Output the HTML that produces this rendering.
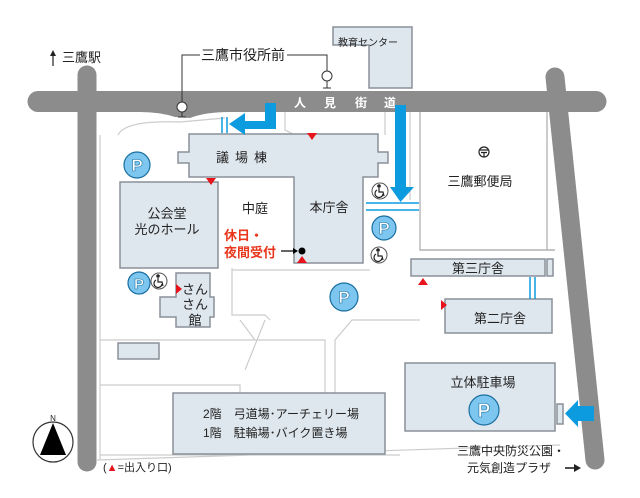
<!DOCTYPE html>
<html><head><meta charset="utf-8"><style>
html,body{margin:0;padding:0;background:#fff;width:640px;height:498px;overflow:hidden}
svg{display:block}
text{font-family:"Liberation Sans","Noto Sans CJK JP",sans-serif;fill:#222}
</style></head><body>
<svg width="640" height="498" viewBox="0 0 640 498">
<defs>
<g id="wc"><circle r="8" fill="#fff" stroke="#555" stroke-width="1"/>
<g fill="none" stroke="#222" stroke-width="1.2"><circle cx="-1" cy="-5" r="1.2" fill="#222"/><path d="M-1 -3 V1 H3 L4 5"/><path d="M-3 -1 A4 4 0 1 0 3 3"/></g></g>
</defs>
<g fill="none" stroke="#ccc" stroke-width="1.2">
<path d="M100 135 L100 460 M100 455 L400 455 M97 460 L560 445"/>
<path d="M118 135 Q125 120 180 122 L225 118"/>
<path d="M285 112 V130 L295 135 M385 112 V135 M410 112 V200"/>
<path d="M232 268 V315 H265 L270 320 M232 270 H370"/>
<path d="M100 340 H325 V393 M240 320 L255 340 M265 320 L245 370"/>
<path d="M335 393 V340 L352 320 H420 M100 385 H240 V393"/>
<path d="M420 250 H555"/>
</g>
<g stroke="#8c8c8c" stroke-linecap="round" fill="none">
<line x1="87" y1="75" x2="87" y2="462" stroke-width="19"/>
<line x1="555" y1="77" x2="595" y2="460" stroke-width="19"/>
</g>
<path d="M38 91 H596 A10.5 10.5 0 0 1 596 112 H230 Q205 112 190 118 L175 117 Q160 112 140 112 H38 A10.5 10.5 0 0 1 38 91 Z" fill="#8c8c8c"/>
<g font-size="12" font-weight="bold"><text x="294" y="107" style="fill:#fff">人</text><text x="324" y="107" style="fill:#fff">見</text><text x="355" y="107" style="fill:#fff">街</text><text x="384" y="107" style="fill:#fff">道</text></g>
<g fill="#dfe7ee" stroke="#8a9099" stroke-width="1.5">
<path d="M333 27 H412 V88 H369 V45 H333 Z"/>
<path d="M189 134 H378 V152 H388 V163 H378 V177 H363 V263 H294 V177 H189 V163 H178 V152 H189 Z"/>
<path d="M120 182 H218 V268 H120 Z"/>
<path d="M176 273 H210 V297 H214 V317 H210 V327 H176 V317 H160 V297 H176 Z"/>
<rect x="411" y="259" width="134" height="17"/>
<rect x="547" y="259" width="6" height="17"/>
<rect x="445" y="299" width="107" height="34"/>
<rect x="118" y="343" width="41" height="16"/>
<rect x="173" y="393" width="212" height="61"/>
<rect x="405" y="363" width="150" height="68"/>
<rect x="557" y="404" width="6" height="20"/>
</g>
<path d="M420 112 V250 H555 M547 112 V250" fill="none" stroke="#aaa" stroke-width="1.2"/>
<g fill="#0d9be0">
<path d="M265 103 H276 V129 H245 V135 L229 124 L245 113 V121 H265 Z"/>
<path d="M395 105 H406 V187 H414 L400.5 202 L390 187 H395 Z"/>
<path d="M594 406 V421 H578 V427 L565 413.5 L578 400 V406 Z"/>
</g>
<g stroke="#0d9be0" stroke-width="1.5" fill="none">
<path d="M222 117 V133 M227 117 V133"/>
<path d="M366 203 H419 M366 210 H419"/>
<path d="M530 277 V299 M535 277 V299"/>
</g>
<g fill="#7cc6ef" stroke="#1a6fa0" stroke-width="1.2">
<circle cx="137" cy="165" r="13"/><circle cx="384" cy="228" r="12"/><circle cx="139" cy="283" r="11"/><circle cx="344" cy="297" r="14"/><circle cx="484" cy="410" r="15"/>
</g>
<g font-size="17" font-weight="bold" text-anchor="middle">
<text x="137" y="171" style="fill:#fff;stroke:#1a6fa0;stroke-width:.6">P</text>
<text x="384" y="234" style="fill:#fff;stroke:#1a6fa0;stroke-width:.6">P</text>
<text x="139" y="289" font-size="15" style="fill:#fff;stroke:#1a6fa0;stroke-width:.6">P</text>
<text x="344" y="303" style="fill:#fff;stroke:#1a6fa0;stroke-width:.6">P</text>
<text x="484" y="417" font-size="19" style="fill:#fff;stroke:#1a6fa0;stroke-width:.6">P</text>
</g>
<use href="#wc" x="380" y="191"/><use href="#wc" x="379" y="255"/><use href="#wc" x="159" y="281"/>
<g fill="#e8141c">
<path d="M307 133 H317 L312 140 Z"/><path d="M206 178 H216 L211 185 Z"/>
<path d="M297 263 H307 L302 256 Z"/><path d="M418 285 H428 L423 278 Z"/>
<path d="M176 284 V294 L182 289 Z"/><path d="M441 300 V310 L447 305 Z"/>
</g>
<g fill="none" stroke="#333" stroke-width="1">
<path d="M200 55 H182 V102 M287 55 H327 V71"/>
<circle cx="182" cy="107" r="5" fill="#fff"/><path d="M182 112 V117 M178 117 H186"/>
<circle cx="327" cy="76" r="5" fill="#fff"/><path d="M327 81 V88 M323 88 H331"/>
</g>
<!-- post office mark -->
<g fill="none" stroke="#222" stroke-width="1.2"><circle cx="484" cy="152" r="5"/><path d="M480 150 H488 M481 152.5 H487 M484 152.5 V157"/></g>
<circle cx="302" cy="251" r="3.5" fill="#000"/>
<path d="M281 251 H296" stroke="#000" stroke-width="1.2"/><path d="M298 251 L293 248 V254 Z" fill="#000"/>
<circle cx="53" cy="442" r="20" fill="#fff" stroke="#333" stroke-width="1.2"/>
<path d="M53 423 L40 455 H66 Z" fill="#000"/>
<text x="53" y="421" font-size="8" text-anchor="middle">N</text>
<g font-size="13">
<path d="M53 66 V53" stroke="#222" stroke-width="1.2"/><path d="M53 50 L50 56 H56 Z" fill="#222"/>
<text x="62" y="62">三鷹駅</text>
<text x="201" y="60" font-size="14">三鷹市役所前</text>
<text x="338" y="46" font-size="10">教育センター</text>
<text x="216" y="162" letter-spacing="6">議場棟</text>
<text x="480" y="186" text-anchor="middle">三鷹郵便局</text>
<text x="167" y="218" text-anchor="middle">公会堂</text>
<text x="167" y="234" text-anchor="middle">光のホール</text>
<text x="255" y="213" text-anchor="middle">中庭</text>
<text x="329" y="212" text-anchor="middle">本庁舎</text>
<text x="224" y="240" style="fill:#e8371c" font-weight="bold">休日・</text>
<text x="224" y="257" style="fill:#e8371c" font-weight="bold">夜間受付</text>
<text x="195" y="294" text-anchor="middle">さん</text>
<text x="195" y="309" text-anchor="middle">さん</text>
<text x="195" y="325" text-anchor="middle">館</text>
<text x="478" y="273" text-anchor="middle">第三庁舎</text>
<text x="500" y="323" text-anchor="middle">第二庁舎</text>
<text x="483" y="387" text-anchor="middle">立体駐車場</text>
<text x="203" y="418" font-size="12">2階　弓道場･アーチェリー場</text>
<text x="203" y="437" font-size="12">1階　駐輪場･バイク置き場</text>
<text x="457" y="455" font-size="12">三鷹中央防災公園・</text>
<text x="467" y="472" font-size="12">元気創造プラザ</text>
<text x="103" y="471" font-size="11">(<tspan style="fill:#e8141c">▲</tspan>=出入り口)</text>
</g>
<path d="M565 468 H577" stroke="#222" stroke-width="1.6"/><path d="M581 468 L574 464 V472 Z" fill="#222"/>
</svg>
</body></html>
